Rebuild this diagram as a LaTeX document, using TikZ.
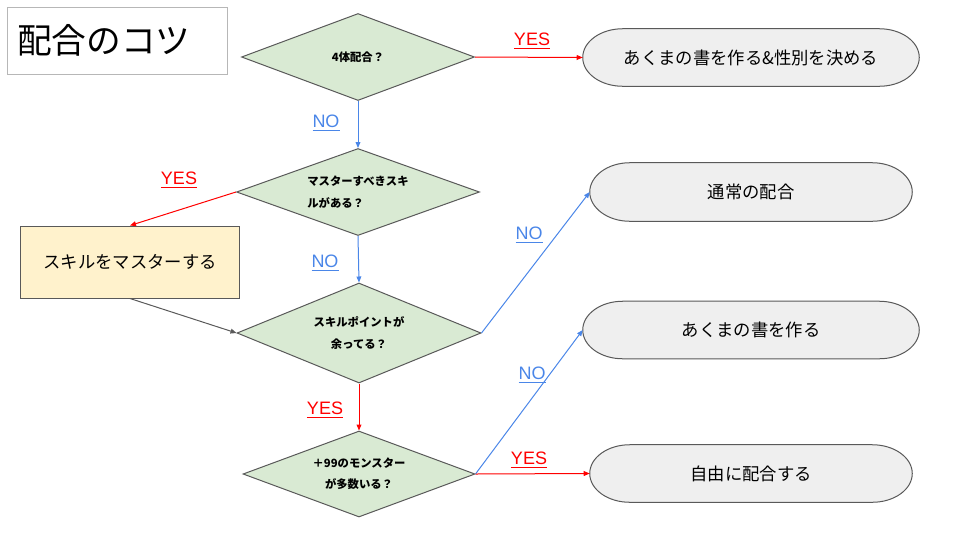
\documentclass[tikz,border=0pt]{standalone}
\usepackage{fontspec}
\setmainfont{Liberation Sans}
\newfontfamily\jp{Noto Sans CJK JP}
\usetikzlibrary{shapes.geometric,arrows.meta,backgrounds}
\definecolor{qgreen}{HTML}{D9EAD3}
\definecolor{tgray}{HTML}{EFEFEF}
\definecolor{skyellow}{HTML}{FFF2CC}
\definecolor{edgegray}{HTML}{595959}
\definecolor{framegray}{HTML}{B7B7B7}
\definecolor{yesred}{HTML}{FF0000}
\definecolor{noblue}{HTML}{4A86E8}
\tikzset{
  question/.style={diamond, aspect=2.7, draw=edgegray, line width=0.75pt, fill=qgreen, inner sep=0pt,
    font=\jp\bfseries\fontsize{8.5}{16}\selectfont, align=center},
  terminal/.style={rectangle, minimum width=336*0.75pt, minimum height=57*0.75pt,
    font=\jp\fontsize{13}{16}\selectfont},
  capsule/.style={draw=edgegray, line width=0.75pt, fill=tgray},
  yesline/.style={draw=yesred, line width=0.75pt, -{Triangle[length=4.5pt,width=3.6pt]}},
  noline/.style={draw=noblue, line width=0.75pt, -{Triangle[length=4.5pt,width=3.6pt]}},
  yeslabel/.style={text=yesred, font=\fontsize{13.5}{16}\selectfont},
  nolabel/.style={text=noblue, font=\fontsize{13.5}{16}\selectfont}
}

\begin{document}
\begin{tikzpicture}[x=0.75pt, y=-0.75pt]
		%%%%% START %%%%%
		\useasboundingbox (0,0) rectangle (960,540);
		
		\node[draw=framegray, line width=0.75pt, inner xsep=7.5pt, text width=150pt, align=left,
		  minimum height=67*0.75pt, font=\jp\fontsize{26}{28}\selectfont] (title) at (117,40.5) {配合のコツ};
		
		% questions
		\node[question, minimum width=233*0.75pt, minimum height=87*0.75pt] (q1) at (358,57) {4体配合？};
		\node[question, minimum width=243*0.75pt, minimum height=87*0.75pt, align=left] (q2) at (358,192) {マスターすべきスキ\\ルがある？};
		\node[question, minimum width=244*0.75pt, minimum height=100*0.75pt] (q3) at (359,333) {スキルポイントが\\余ってる？};
		\node[question, minimum width=232*0.75pt, minimum height=86*0.75pt] (q4) at (359,474) {＋99のモンスター\\が多数いる？};
		
		% results
		\node[terminal] (t1) at (751,57.5) {あくまの書を作る\&性別を決める};
		\node[terminal, minimum width=322*0.75pt, minimum height=58*0.75pt] (t2) at (751,192) {通常の配合};
		\node[terminal] (t3) at (751,330) {あくまの書を作る};
		\node[terminal, minimum width=322*0.75pt] (t4) at (751,473.5) {自由に配合する};
		\begin{scope}[on background layer]
		\foreach \t in {t1,t2,t3,t4}
		  \draw[capsule] ([xshift=30pt]\t.north west) -- ([xshift=-30pt]\t.north east)
		    .. controls +(16.6pt,0pt) and +(0pt,11.9pt) .. (\t.east)
		    .. controls +(0pt,-11.9pt) and +(16.6pt,0pt) .. ([xshift=-30pt]\t.south east)
		    -- ([xshift=30pt]\t.south west)
		    .. controls +(-16.6pt,0pt) and +(0pt,-11.9pt) .. (\t.west)
		    .. controls +(0pt,11.9pt) and +(-16.6pt,0pt) .. ([xshift=30pt]\t.north west) -- cycle;
		\end{scope}
		
		\node[draw=edgegray, line width=0.75pt, fill=skyellow, minimum width=219*0.75pt, minimum height=72*0.75pt,
		  font=\jp\fontsize{13}{16}\selectfont] (skill) at (130,262) {スキルをマスターする};
		
		% arrows
		\draw[yesline] (q1.east) -- (t1.west);
		\draw[noline] (q1.south) -- (q2.north);
		\draw[yesline] (q2.west) -- (skill.north);
		\draw[noline] (q2.south) -- (q3.north);
		\draw[edgegray, line width=0.75pt, -{Triangle[length=4.5pt,width=3.6pt]}] (skill.south) -- (q3.west);
		\draw[noline] (q3.east) -- (t2.west);
		\draw[yesline] (q3.south) -- (q4.north);
		\draw[noline] (q4.east) -- (t3.west);
		\draw[yesline] (q4.east) -- (t4.west);
		
		\node[yeslabel] (yes1) at (532,41) {\underline{YES}};
		\node[nolabel] (no1) at (326,123) {\underline{NO}};
		\node[yeslabel] (yes2) at (179,180) {\underline{YES}};
		\node[nolabel] (no2) at (325,263) {\underline{NO}};
		\node[nolabel] (no3) at (529,235) {\underline{NO}};
		\node[yeslabel] (yes3) at (325,410) {\underline{YES}};
		\node[nolabel] (no4) at (532,375) {\underline{NO}};
		\node[yeslabel] (yes4) at (529,460) {\underline{YES}};
		%%%%% END %%%%%
	\end{tikzpicture}
\end{document}
